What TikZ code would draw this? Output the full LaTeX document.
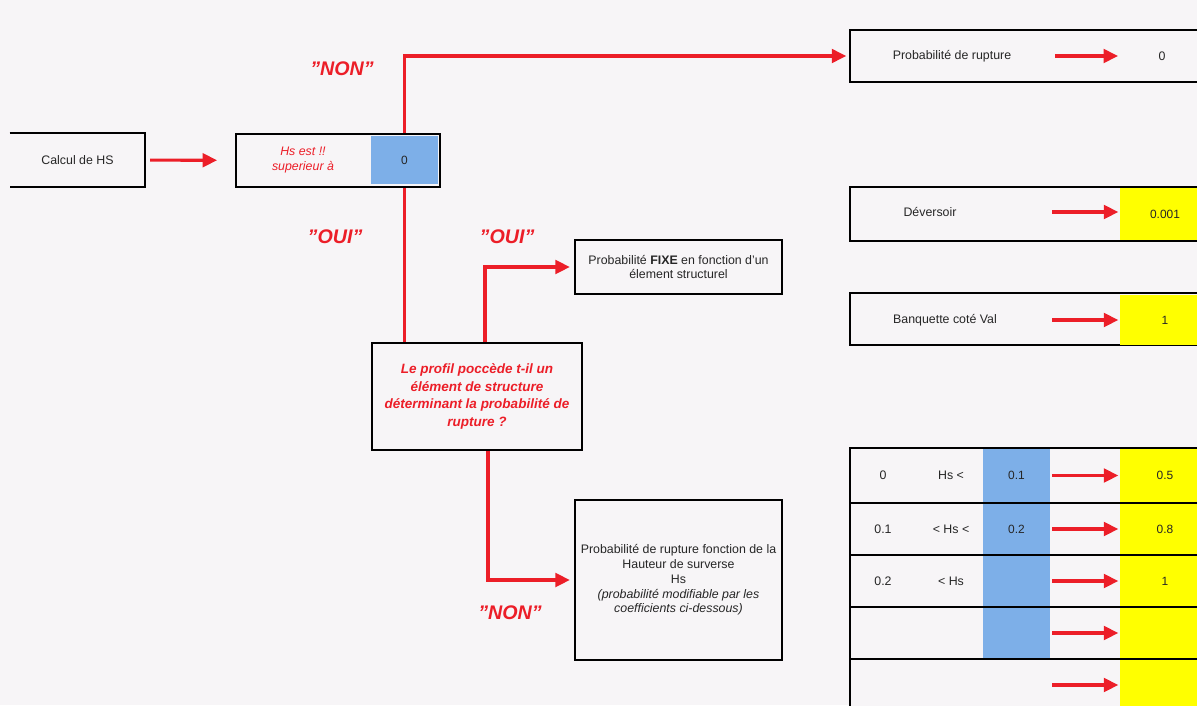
\documentclass[tikz,border=0pt]{standalone}
\usepackage{fontspec}
\setmainfont{Liberation Sans}
\usetikzlibrary{arrows.meta,positioning}
\definecolor{paper}{RGB}{247,245,247}
\definecolor{alarm}{RGB}{236,30,40}
\definecolor{cellblue}{RGB}{125,175,232}
\definecolor{cellyellow}{RGB}{255,255,0}
\newcommand{\qt}[1]{\symbol{34}#1\symbol{34}}

\begin{document}
\begin{tikzpicture}[x=0.025cm,y=-0.025cm,
  box/.style={draw,line width=1.3pt,fill=paper,minimum width=9cm,
    minimum height=1.3cm,inner sep=0pt},
  mid/.style={draw,line width=1.3pt,fill=paper,minimum width=5.175cm,
    align=center,font=\fontsize{8.8}{10.5}\selectfont,text=black!85},
  bluecell/.style={fill=cellblue,minimum width=1.675cm,inner sep=0pt,
    font=\fontsize{8.5}{10}\selectfont,text=black!85},
  yelcell/.style={fill=cellyellow,minimum width=2.25cm,inner sep=0pt,
    font=\fontsize{8.5}{10}\selectfont,text=black!85},
  txt/.style={font=\fontsize{8.8}{10}\selectfont,text=black!85},
  redq/.style={text=alarm,font=\fontsize{9.6}{12.5}\selectfont\bfseries\itshape,
    align=center},
  answer/.style={text=alarm,font=\fontsize{14}{16}\selectfont\bfseries\itshape},
  arr/.style={-{Triangle[length=3.6mm,width=3.4mm]},draw=alarm,line width=2.2pt},
  wire/.style={draw=alarm,line width=2pt}
]
\fill[paper] (0,0) rectangle (1197,705);
\path[use as bounding box,clip] (0,0) rectangle (1197,705);

% start and test
\node[minimum width=3.375cm,minimum height=1.35cm,txt] (calc) at (77.5,160) {Calcul de HS};
\draw[line width=1.3pt] (calc.north west) -- (calc.north east)
  -- (calc.south east) -- (calc.south west);
\node[mid,minimum width=5.1cm,minimum height=1.325cm,inner sep=0pt] (test) at (338,160.5) {};
\node[bluecell,minimum height=1.2cm] (seuil) at (404.5,160) {0};
\node[redq,font=\fontsize{8.8}{10}\selectfont\itshape] (quest) at (303,160) {Hs est !!\\superieur à};
\draw[arr,shorten <=0.12cm,shorten >=0.45cm] (calc) -- (test);

% right column
\node[box] (pz) at (1030,56) {};
\node[txt] (pzt) at (952,56) {Probabilité de rupture};
\node[txt] (pzv) at (1162,56) {0};
\coordinate (pza) at (1055,56);
\coordinate (pzb) at (1118,56);
\draw[arr] (pza) -- (pzb);

\node[box,minimum height=1.35cm] (dev) at (1030,214) {};
\node[yelcell,minimum height=1.3cm] (devv) at (1165,214) {0.001};
\node[txt] (devt) at (930,212) {Déversoir};
\coordinate (deva) at (1052,212);
\draw[arr,shorten >=1pt] (deva) -- (deva -| devv.west);

\node[box] (banq) at (1030,319) {};
\node[yelcell,minimum height=1.25cm] (banqv) at (1165,320) {1};
\node[txt] (banqt) at (945,320) {Banquette coté Val};
\coordinate (banqa) at (1052,320);
\draw[arr,shorten >=1pt] (banqa) -- (banqa -| banqv.west);

% decision
\node[mid,minimum width=5.25cm,minimum height=2.675cm] (profil) at (477,396.5) {};
\node[redq] (profilt) at (477,396.5) {Le profil poccède t-il un\\élément de structure\\déterminant la probabilité de\\rupture ?};
\node[mid,minimum height=1.35cm] (fixe) at (678.5,267)
  {Probabilité \textbf{FIXE} en fonction d'un\\élement structurel};
\node[mid,minimum height=4cm] (hfonc) at (678.5,580)
  {Probabilité de rupture fonction de la\\Hauteur de surverse\\Hs\\\textit{(probabilité modifiable par les}\\\textit{coefficients ci-dessous)}};

% connectors
\coordinate (up) at (485,0);
\coordinate (down) at (488,0);
\draw[wire] (test.south -| seuil) -- (profil.north -| seuil);
\draw[arr,shorten >=2pt] (test.north -| seuil) |- (pz.west);
\draw[arr,shorten >=3pt] (profil.north -| up) |- (fixe.west);
\draw[arr,shorten >=3pt] (profil.south -| down) |- (hfonc.west);

\node[answer] (non1) at (342,69) {\qt{NON}};
\node[answer] (oui1) at (335,237) {\qt{OUI}};
\node[answer] (oui2) at (507,237) {\qt{OUI}};
\node[answer] (non2) at (510,613) {\qt{NON}};

% table of Hs classes
\foreach \y/\h/\a/\b/\c/\v/\blue in {475.5/55/0/{Hs <}/0.1/0.5/1,
    529/52/0.1/{< Hs <}/0.2/0.8/1, 581/52/0.2/{< Hs}/{}/1/1,
    633/52/{}/{}/{}/{}/1, 685/52/{}/{}/{}/{}/0}{
  \node[box,minimum height=\h*0.025cm] (row) at (1030,\y) {};
  \ifnum\blue=1
    \node[bluecell,minimum height=\h*0.025cm-1.3pt] (lim) at (1016.5,\y) {\c};
  \fi
  \node[yelcell,minimum height=\h*0.025cm-1.3pt] (val) at (1165,\y) {\v};
  \node[txt] (low) at (883,\y) {\a};
  \node[txt] (hs) at (951,\y) {\b};
  \coordinate (rowa) at (1052,\y);
  \draw[arr,shorten >=1pt] (rowa) -- (rowa -| val.west);
}
\end{tikzpicture}
\end{document}
